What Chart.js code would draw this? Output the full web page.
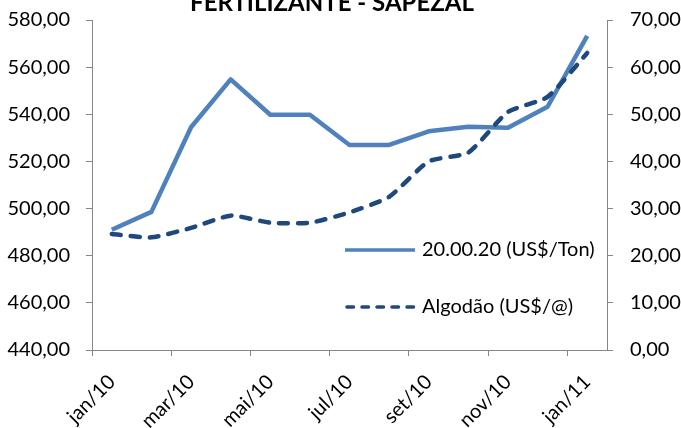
<!DOCTYPE html>
<html>
<head>
<meta charset="utf-8">
<script src="https://cdn.jsdelivr.net/npm/chart.js@4.4.1/dist/chart.umd.min.js"></script>
<style>
  html, body { margin: 0; padding: 0; background: #fff; }
  canvas { display: block; }
</style>
</head>
<body>
<canvas id="grafico" width="681" height="428"></canvas>
<script>
// dados
const meses = ['jan/10', 'fev/10', 'mar/10', 'abr/10', 'mai/10', 'jun/10', 'jul/10',
               'ago/10', 'set/10', 'out/10', 'nov/10', 'dez/10', 'jan/11'];
const fertilizante = [491.0, 498.6, 534.5, 554.8, 539.8, 539.8, 527.0, 527.0, 532.8, 534.7, 534.3, 543.2, 573.3];
const algodao = [24.6, 23.9, 25.9, 28.5, 27.0, 27.0, 29.2, 32.5, 40.0, 41.9, 50.5, 53.7, 63.0];
const eixoEsq = [440, 580, 20];   // min, max, passo
const eixoDir = [0, 70, 10];

const titulo = 'FERTILIZANTE - SAPEZAL';
const nomeFert = '20.00.20 (US$/Ton)';
const nomeAlg = 'Algodão (US$/@)';

const fonte = 'Lato, "Open Sans", sans-serif';
const cinza = '#868686';
const azul = '#4F81BD';
const marinho = '#1F497D';

const fmt = v => Number(v).toFixed(2).replace('.', ',');

// tamanho fixo dos eixos, sem folga extra
const fixaY = w => s => { s.width = w; s.paddingTop = 0; s.paddingBottom = 0; };

// titulo (cortado no topo) e legenda dentro da área
const extras = {
    id: 'extras',
    afterDraw(chart) {
        const ctx = chart.ctx;
        ctx.save();
        ctx.fillStyle = '#000';
        ctx.font = 'bold 24px ' + fonte;
        ctx.textAlign = 'center';
        ctx.textBaseline = 'alphabetic';
        ctx.fillText(titulo, 332, 11);

        const itens = [
            { y: 250, cor: azul, dash: [], cap: 'butt', x0: 345, x1: 415, txt: nomeFert },
            { y: 307, cor: marinho, dash: [6.5, 8.5], cap: 'round', x0: 347, x1: 415, txt: nomeAlg }
        ];
        itens.forEach(it => {
            ctx.beginPath();
            ctx.strokeStyle = it.cor;
            ctx.lineWidth = 3.5;
            ctx.lineCap = it.cap;
            ctx.setLineDash(it.dash);
            ctx.moveTo(it.x0, it.y);
            ctx.lineTo(it.x1, it.y);
            ctx.stroke();
            ctx.setLineDash([]);
            ctx.fillStyle = '#000';
            ctx.font = '20px ' + fonte;
            ctx.textAlign = 'left';
            ctx.textBaseline = 'middle';
            ctx.fillText(it.txt, 422, it.y);
        });
        ctx.restore();
    }
};

new Chart(document.getElementById('grafico'), {
    type: 'line',
    data: {
        labels: meses,
        datasets: [
            {
                label: nomeAlg,
                data: algodao,
                yAxisID: 'yDir',
                borderColor: marinho,
                borderWidth: 4.5,
                borderDash: [9, 10],
                borderCapStyle: 'round',
                borderJoinStyle: 'round',
                pointRadius: 0,
                tension: 0.2,
                order: 0
            },
            {
                label: nomeFert,
                data: fertilizante,
                yAxisID: 'yEsq',
                borderColor: azul,
                borderWidth: 4.5,
                borderJoinStyle: 'round',
                pointRadius: 0,
                tension: 0,
                order: 1
            }
        ]
    },
    options: {
        responsive: false,
        animation: false,
        devicePixelRatio: 1,
        layout: { padding: { top: 20, left: 0, right: 0, bottom: 0 } },
        plugins: {
            legend: { display: false },
            title: { display: false },
            tooltip: { enabled: false }
        },
        scales: {
            x: {
                offset: true,
                afterFit: s => { s.height = 78; s.paddingLeft = 0; s.paddingRight = 0; },
                border: { color: cinza, width: 1 },
                grid: {
                    offset: true,
                    drawOnChartArea: false,
                    tickLength: 6,
                    color: c => (c.index % 2 === 0 ? cinza : 'rgba(0,0,0,0)')
                },
                ticks: {
                    autoSkip: false,
                    maxRotation: 45,
                    minRotation: 45,
                    padding: 14,
                    color: '#000',
                    font: { family: fonte, size: 20 },
                    callback: (v, i) => (i % 2 === 0 ? meses[i] : '')
                }
            },
            yEsq: {
                position: 'left',
                min: eixoEsq[0], max: eixoEsq[1],
                afterFit: fixaY(92),
                border: { color: cinza, width: 1 },
                grid: { drawOnChartArea: false, tickLength: 6, color: cinza },
                ticks: {
                    stepSize: eixoEsq[2],
                    padding: 16,
                    color: '#000',
                    font: { family: fonte, size: 20 },
                    callback: fmt
                }
            },
            yDir: {
                position: 'right',
                min: eixoDir[0], max: eixoDir[1],
                afterFit: fixaY(74),
                border: { color: cinza, width: 1 },
                grid: { drawOnChartArea: false, tickLength: 6, color: cinza },
                ticks: {
                    stepSize: eixoDir[2],
                    padding: 17,
                    color: '#000',
                    font: { family: fonte, size: 20 },
                    callback: fmt
                }
            }
        }
    },
    plugins: [extras]
});
</script>
</body>
</html>
